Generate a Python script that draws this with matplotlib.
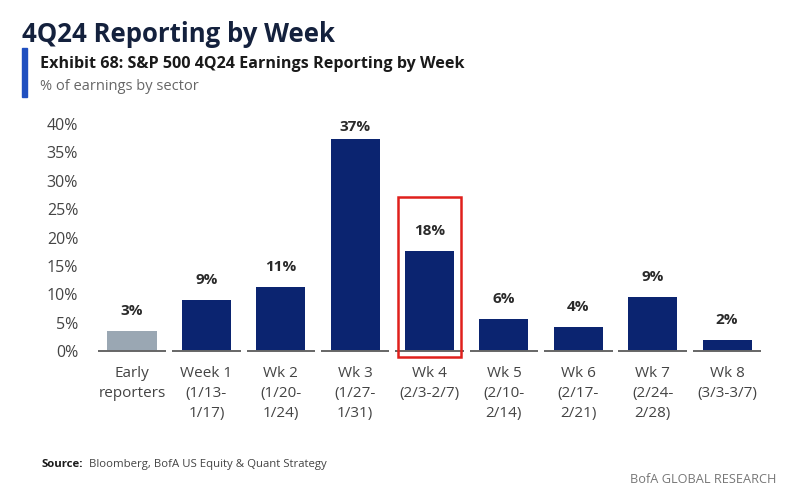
import matplotlib
matplotlib.use("Agg")
import matplotlib.pyplot as plt
from matplotlib.patches import Rectangle

categories = ["Early\nreporters", "Week 1\n(1/13-\n1/17)", "Wk 2\n(1/20-\n1/24)", "Wk 3\n(1/27-\n1/31)",
              "Wk 4\n(2/3-2/7)", "Wk 5\n(2/10-\n2/14)", "Wk 6\n(2/17-\n2/21)", "Wk 7\n(2/24-\n2/28)", "Wk 8\n(3/3-3/7)"]
values = [3.5, 9.0, 11.3, 37.4, 17.6, 5.6, 4.2, 9.5, 1.9]
labels = ["3%", "9%", "11%", "37%", "18%", "6%", "4%", "9%", "2%"]
yticks = [0, 5, 10, 15, 20, 25, 30, 35, 40]
highlight_index = 4

plt.rcParams['font.family'] = ['Open Sans', 'DejaVu Sans']

fig = plt.figure(figsize=(8, 4.93), dpi=100)
ax = fig.add_axes([0.1185, 0.288, 0.8368, 0.4604])

navy = "#0b2470"
grey = "#9aa7b3"
colors = [grey] + [navy] * (len(values) - 1)
x = list(range(len(values)))
ax.bar(x, values, width=0.66, color=colors, zorder=2)

for xi, v, lab in zip(x, values, labels):
    ax.text(xi, min(v + 2.3, 38.3), lab, ha="center", va="bottom", fontsize=11, fontweight="bold", color="#2a2a2a")

# segmented baseline
for xi in x:
    ax.plot([xi - 0.46, xi + 0.46], [0, 0], color="#666666", lw=1.4, solid_capstyle="butt", zorder=3, clip_on=False)

ax.set_xlim(-0.5, len(values) - 0.5)
ax.set_ylim(0, 40)
ax.set_yticks(yticks)
ax.set_yticklabels([f"{t}%" for t in yticks], fontsize=11.5, color="#444444")
ax.set_xticks(x)
ax.set_xticklabels(categories, fontsize=11, color="#444444", linespacing=1.42)
ax.tick_params(axis="both", length=0)
ax.tick_params(axis="y", pad=12)
ax.tick_params(axis="x", pad=11)
for s in ax.spines.values():
    s.set_visible(False)

# red highlight box
ax.add_patch(Rectangle((highlight_index - 0.42, -1.0), 0.84, 28.2, fill=False, edgecolor="#e0201c",
                       lw=1.8, clip_on=False, zorder=4))

fig.text(0.027, 0.915, "4Q24 Reporting by Week", fontsize=18.5, fontweight="bold", color="#14213d", va="baseline")
fig.add_artist(Rectangle((0.027, 0.803), 0.0065, 0.100, transform=fig.transFigure, color="#1f4fc0"))
fig.text(0.05, 0.863, "Exhibit 68: S&P 500 4Q24 Earnings Reporting by Week", fontsize=11.6, fontweight="bold",
         color="#1a1a1a", va="baseline")
fig.text(0.05, 0.818, "% of earnings by sector", fontsize=10.5, color="#666666", va="baseline")
fig.text(0.052, 0.053, "Source:", fontsize=8.2, fontweight="bold", color="#1a1a1a", va="baseline")
fig.text(0.111, 0.053, "Bloomberg, BofA US Equity & Quant Strategy", fontsize=8.2, color="#444444", va="baseline")
fig.text(0.971, 0.020, "BofA GLOBAL RESEARCH", fontsize=9.2, color="#777777", ha="right", va="baseline")

fig.savefig("out.png", dpi=100, facecolor="white")
